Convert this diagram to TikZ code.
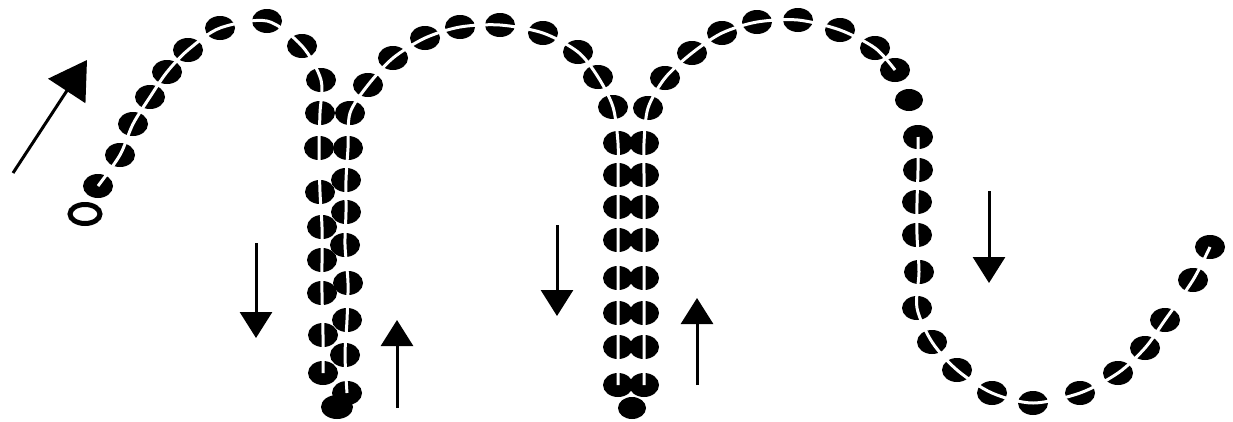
\documentclass[tikz,border=0pt]{standalone}
\usetikzlibrary{arrows.meta}
\tikzset{
  bead/.style={fill=black},
  thread/.style={draw=white,line width=3pt,line cap=butt},
  arr/.style={line width=3pt,-{Triangle[length=26pt,width=32pt]}},
  bigarr/.style={line width=3pt,-{Triangle[length=37pt,width=44pt]}}
}
\newcommand{\beads}[1]{\foreach \bx/\by in {#1}{\fill[bead] (\bx,\by) ellipse[x radius=15pt,y radius=12pt];}}
\begin{document}
\begin{tikzpicture}[x=1pt,y=-1pt]
\useasboundingbox (0,0) rectangle (1233,421);
% start ring
\draw[line width=5pt] (85,214) ellipse[x radius=15pt,y radius=9.5pt];
% segment 1: first arc and left column
\beads{98/186,120/155,133/124,150/97,167/72,188/50,220/28,267/21,302/46,321/80,320/113,319/148,320/192,322/227,322/260,322/293,323/335,323/373}
\draw[thread] plot[smooth,tension=0.5] coordinates {(98,186)(120,155)(133,124)(150,97)(167,72)(188,50)(220,28)(267,21)(302,46)(321,80)(320,113)(319,148)(320,192)(322,227)(322,260)(322,293)(323,335)(323,373)};
% segment 2: right column, second arc, left column of loop 2
\beads{347/393,345/355,347/320,348/283,345/245,346/212,346/180,348/148,350/113,368/85,393/58,425/38,460/27,500/25,543/33,578/52,598/77,613/107,618/143,618/175,618/207,618/240,618/278,618/313,618/347,618/385}
\draw[thread] plot[smooth,tension=0.5] coordinates {(347,393)(345,355)(347,320)(348,283)(345,245)(346,212)(346,180)(348,148)(350,113)(368,85)(393,58)(425,38)(460,27)(500,25)(543,33)(578,52)(598,77)(613,107)(618,143)(618,175)(618,207)(618,240)(618,278)(618,313)(618,347)(618,385)};
% bottom bead 1
\fill[bead] (337,407) ellipse[x radius=16pt,y radius=12pt];
% segment 3: right column of loop 2, third arc
\beads{644/385,644/347,644/313,644/278,644/240,644/207,644/175,644/143,648/108,665/78,692/53,722/33,757/22,798/20,840/30,875/48,895/70}
\draw[thread] plot[smooth,tension=0.5] coordinates {(644,385)(644,347)(644,313)(644,278)(644,240)(644,207)(644,175)(644,143)(648,108)(665,78)(692,53)(722,33)(757,22)(798,20)(840,30)(875,48)(895,70)};
% bottom bead 2 and solid top bead
\fill[bead] (632,408) ellipse[x radius=14pt,y radius=11pt];
\fill[bead] (909,100) ellipse[x radius=14pt,y radius=11pt];
% segment 4: final column and hook
\beads{918/137,918/170,917/202,917/235,919/272,917/308,932/342,957/370,992/393,1033/403,1080/393,1118/373,1145/348,1165/320,1193/280,1210/247}
\draw[thread] plot[smooth,tension=0.5] coordinates {(918,137)(918,170)(917,202)(917,235)(919,272)(917,308)(932,342)(957,370)(992,393)(1033,403)(1080,393)(1118,373)(1145,348)(1165,320)(1193,280)(1210,247)};
% arrows
\coordinate (a1s) at (13,173); \coordinate (a1e) at (87,60);
\draw[bigarr] (a1s) -- (a1e);
\coordinate (a2s) at (256,243); \coordinate (a2e) at (256,338);
\draw[arr] (a2s) -- (a2e);
\coordinate (a3s) at (397,408); \coordinate (a3e) at (397,320);
\draw[arr] (a3s) -- (a3e);
\coordinate (a4s) at (557,225); \coordinate (a4e) at (557,316);
\draw[arr] (a4s) -- (a4e);
\coordinate (a5s) at (697,385); \coordinate (a5e) at (697,298);
\draw[arr] (a5s) -- (a5e);
\coordinate (a6s) at (989,191); \coordinate (a6e) at (989,283);
\draw[arr] (a6s) -- (a6e);
\end{tikzpicture}
\end{document}
